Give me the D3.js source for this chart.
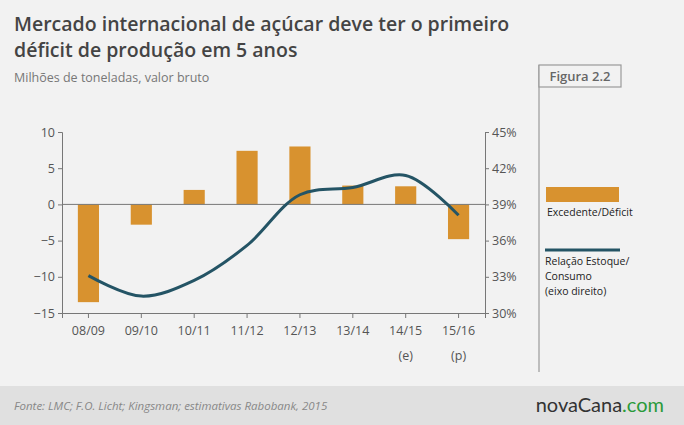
<!DOCTYPE html><html><head><meta charset="utf-8"><script src="https://cdn.jsdelivr.net/npm/d3@7"></script>
<style>body{margin:0}svg{display:block;font-family:"Open Sans",sans-serif}</style></head><body><script>
const categories=["08/09","09/10","10/11","11/12","12/13","13/14","14/15","15/16"];
const subLabels=["","","","","","","(e)","(p)"];
const surplus=[-13.5,-2.8,2.0,7.4,8.0,2.6,2.5,-4.8];
const ratio=[33.1,31.4,32.7,35.6,39.8,40.4,41.4,38.1];
const leftTicks=[10,5,0,-5,-10,-15];
const rightTicks=[45,42,39,36,33,30];
const W=684,H=425;
const svg=d3.select("body").append("svg").attr("width",W).attr("height",H);
svg.append("rect").attr("width",W).attr("height",H).attr("fill","#f2f2f2");
svg.append("rect").attr("y",386).attr("width",W).attr("height",39).attr("fill","#e0e0e0");
svg.append("text").attr("x",14).attr("y",31).attr("font-size",19.5).attr("font-weight",600).attr("fill","#444").text("Mercado internacional de açúcar deve ter o primeiro");
svg.append("text").attr("x",14).attr("y",57).attr("font-size",19.5).attr("font-weight",600).attr("fill","#444").text("déficit de produção em 5 anos");
svg.append("text").attr("x",14).attr("y",82).attr("font-size",12.5).attr("fill","#777").text("Milhões de toneladas, valor bruto");
svg.append("line").attr("x1",539).attr("x2",539).attr("y1",65).attr("y2",372).attr("stroke","#999").attr("stroke-width",1.2);
svg.append("rect").attr("x",539).attr("y",65).attr("width",82).attr("height",22).attr("fill","#f2f2f2").attr("stroke","#999").attr("stroke-width",1.2);
svg.append("text").attr("x",580).attr("y",81).attr("text-anchor","middle").attr("font-size",13).attr("font-weight",600).attr("fill","#666").text("Figura 2.2");
const x=d3.scaleBand().domain(categories).range([62,485]).paddingInner(0.6).paddingOuter(0.3);
const yL=d3.scaleLinear().domain([-15,10]).range([313,132]);
const yR=d3.scaleLinear().domain([30,45]).range([313,132]);
svg.selectAll(".bar").data(surplus).join("rect").attr("x",(d,i)=>x(categories[i])).attr("width",x.bandwidth())
 .attr("y",d=>yL(Math.max(0,d))).attr("height",d=>Math.abs(yL(d)-yL(0))).attr("fill","#d8922f");
const axL=svg.append("g").attr("transform","translate(62,0)").call(d3.axisLeft(yL).tickValues(leftTicks).tickSize(4));
const axR=svg.append("g").attr("transform","translate(485,0)").call(d3.axisRight(yR).tickValues(rightTicks).tickSize(4).tickFormat(d=>d+"%"));
const axB=svg.append("g").attr("transform","translate(0,313)").call(d3.axisBottom(x).tickSize(5).tickPadding(8));
[axL,axR,axB].forEach(a=>{a.selectAll("path,line").attr("stroke","#777");a.selectAll("text").attr("fill","#555").attr("font-size",12.5).attr("font-family","Open Sans");});
svg.append("line").attr("x1",62).attr("x2",485).attr("y1",yL(0)).attr("y2",yL(0)).attr("stroke","#777");
svg.selectAll(".sub").data(subLabels).join("text").attr("x",(d,i)=>x(categories[i])+x.bandwidth()/2).attr("y",360).attr("text-anchor","middle")
 .attr("fill","#555").attr("font-size",12.5).text(d=>d);
const line=d3.line().x((d,i)=>x(categories[i])+x.bandwidth()/2).y(d=>yR(d)).curve(d3.curveCatmullRom);
svg.append("path").datum(ratio).attr("d",line).attr("fill","none").attr("stroke","#245465").attr("stroke-width",3);
svg.append("rect").attr("x",546).attr("y",187).attr("width",73).attr("height",15).attr("fill","#d8922f");
svg.append("text").attr("x",547).attr("y",216).attr("font-size",10.5).attr("fill","#222").text("Excedente/Déficit");
svg.append("line").attr("x1",545).attr("x2",620).attr("y1",250).attr("y2",250).attr("stroke","#245465").attr("stroke-width",3);
["Relação Estoque/","Consumo","(eixo direito)"].forEach((t,i)=>svg.append("text").attr("x",545).attr("y",265+i*15).attr("font-size",10.5).attr("fill","#222").text(t));
svg.append("text").attr("x",14).attr("y",410).attr("font-size",11.5).attr("font-style","italic").attr("fill","#888").text("Fonte: LMC; F.O. Licht; Kingsman; estimativas Rabobank, 2015");
const lg=svg.append("text").attr("x",664).attr("y",412).attr("text-anchor","end").attr("font-size",20).attr("font-family","Lato");
lg.append("tspan").attr("fill","#333").text("novaCana");lg.append("tspan").attr("fill","#2a9a3a").text(".com");
</script></body></html>
